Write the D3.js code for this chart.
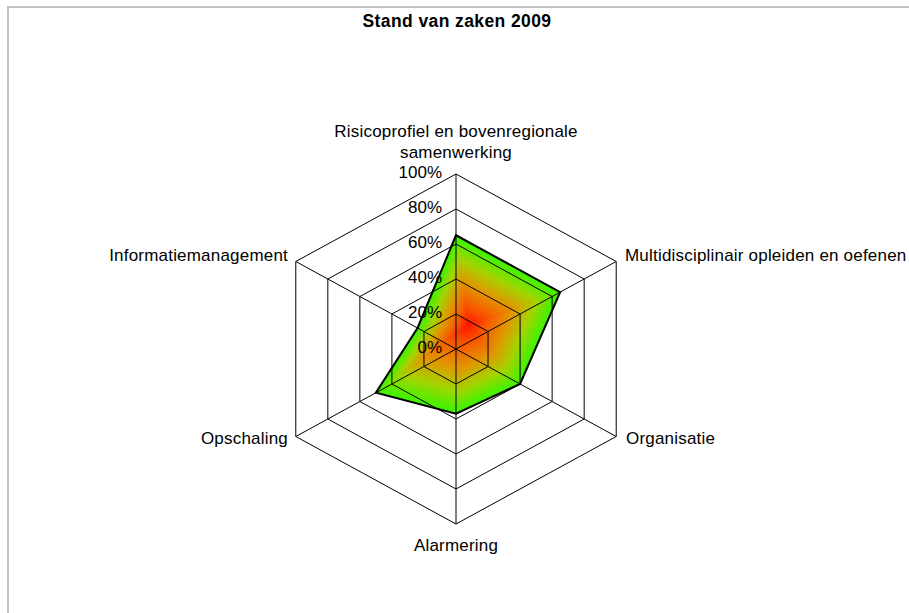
<!DOCTYPE html>
<html>
<head>
<meta charset="utf-8">
<script src="https://cdn.jsdelivr.net/npm/d3@7"></script>
<style>
body { margin: 0; background: #fff; }
text { font-family: "Liberation Sans", Arial, sans-serif; fill: #000; }
</style>
</head>
<body>
<div class="chart"></div>
<script>
(function(){

// data
var categories = ["Risicoprofiel en bovenregionale samenwerking",
                  "Multidisciplinair opleiden en oefenen",
                  "Organisatie",
                  "Alarmering",
                  "Opschaling",
                  "Informatiemanagement"];
var values = [65, 65, 40, 37, 50, 24];   // percent
var ticks = [0, 20, 40, 60, 80, 100];
var tickLabels = ["0%", "20%", "40%", "60%", "80%", "100%"];
var title = "Stand van zaken 2009";

var width = 909,
    height = 613;

var cx = 456, cy = 349;
var rx = 185, ry = 175;   // chart is a bit wider than tall

var svg = d3.select(".chart")
    .append("svg")
    .attr("width", width)
    .attr("height", height);

// chart area border
svg.append("rect")
    .attr("x", 8).attr("y", 7)
    .attr("width", width + 20).attr("height", height + 20)
    .attr("fill", "none")
    .attr("stroke", "#c0c0c0")
    .attr("stroke-width", 2);

var r = d3.scaleLinear().domain([0, 100]).range([0, 1]);
var angle = d3.scaleLinear().domain([0, categories.length]).range([-Math.PI / 2, 1.5 * Math.PI]);

function pt(i, v){
    var a = angle(i);
    return [cx + rx * r(v) * Math.cos(a), cy + ry * r(v) * Math.sin(a)];
}

var line = d3.line().curve(d3.curveLinearClosed);
var dataPts = values.map(function(v, i){ return pt(i, v); });
var dataPath = line(dataPts);

// shape-following gradient fill: nested copies of the polygon scaled toward its bbox centre
var xExt = d3.extent(dataPts, function(p){ return p[0]; }),
    yExt = d3.extent(dataPts, function(p){ return p[1]; });
var gx = (xExt[0] + xExt[1]) / 2,
    gy = (yExt[0] + yExt[1]) / 2;
var fillColor = d3.scaleLinear()
    .domain([0, 0.25, 0.5, 0.75, 1])
    .range(["#ff1400", "#f65c00", "#e29600", "#a4d400", "#3cf400"])
    .interpolate(d3.interpolateRgb);
var steps = d3.range(1, 0, -1 / 60);

svg.append("g").selectAll("path")
    .data(steps)
    .enter().append("path")
    .attr("d", dataPath)
    .attr("transform", function(s){
        return "translate(" + gx + "," + gy + ") scale(" + s + ") translate(" + (-gx) + "," + (-gy) + ")";
    })
    .attr("fill", function(s){ return fillColor(s); })
    .attr("stroke", "none");

// rings
svg.selectAll(".ring")
    .data(ticks.slice(1))
    .enter().append("path")
    .attr("class", "ring")
    .attr("d", function(t){ return line(categories.map(function(c, i){ return pt(i, t); })); })
    .attr("fill", "none")
    .attr("stroke", "#000")
    .attr("stroke-width", 1);

// spokes
svg.selectAll(".spoke")
    .data(categories)
    .enter().append("line")
    .attr("class", "spoke")
    .attr("x1", cx).attr("y1", cy)
    .attr("x2", function(d, i){ return pt(i, 100)[0]; })
    .attr("y2", function(d, i){ return pt(i, 100)[1]; })
    .attr("stroke", "#000")
    .attr("stroke-width", 1);

// data outline
svg.append("path")
    .attr("d", dataPath)
    .attr("fill", "none")
    .attr("stroke", "#000")
    .attr("stroke-width", 2)
    .attr("stroke-linejoin", "miter");

// tick labels
svg.selectAll(".tick")
    .data(ticks)
    .enter().append("text")
    .attr("class", "tick")
    .attr("x", cx - 14)
    .attr("y", function(t){ return pt(0, t)[1] + 4; })
    .attr("text-anchor", "end")
    .style("font-size", "17px")
    .text(function(t, i){ return tickLabels[i]; });

// category labels (baselines)
var labelPos = [
    {x: cx, y: 137, anchor: "middle", lines: ["Risicoprofiel en bovenregionale", "samenwerking"]},
    {x: 625, y: 261, anchor: "start"},
    {x: 626, y: 444, anchor: "start"},
    {x: cx, y: 551, anchor: "middle"},
    {x: 288, y: 444, anchor: "end"},
    {x: 288, y: 261, anchor: "end"}
];
categories.forEach(function(c, i){
    var p = labelPos[i];
    var t = svg.append("text")
        .attr("x", p.x).attr("y", p.y)
        .attr("text-anchor", p.anchor)
        .style("font-size", "17px")
        .style("letter-spacing", "0.2px");
    var lines = p.lines || [c];
    lines.forEach(function(l, j){
        t.append("tspan")
            .attr("x", p.x)
            .attr("dy", j === 0 ? 0 : 21)
            .text(l);
    });
});

// title
svg.append("text")
    .attr("x", 457).attr("y", 27)
    .attr("text-anchor", "middle")
    .style("font-size", "17.5px")
    .style("font-weight", "bold")
    .style("letter-spacing", "0.4px")
    .text(title);

})();
</script>
</body>
</html>
